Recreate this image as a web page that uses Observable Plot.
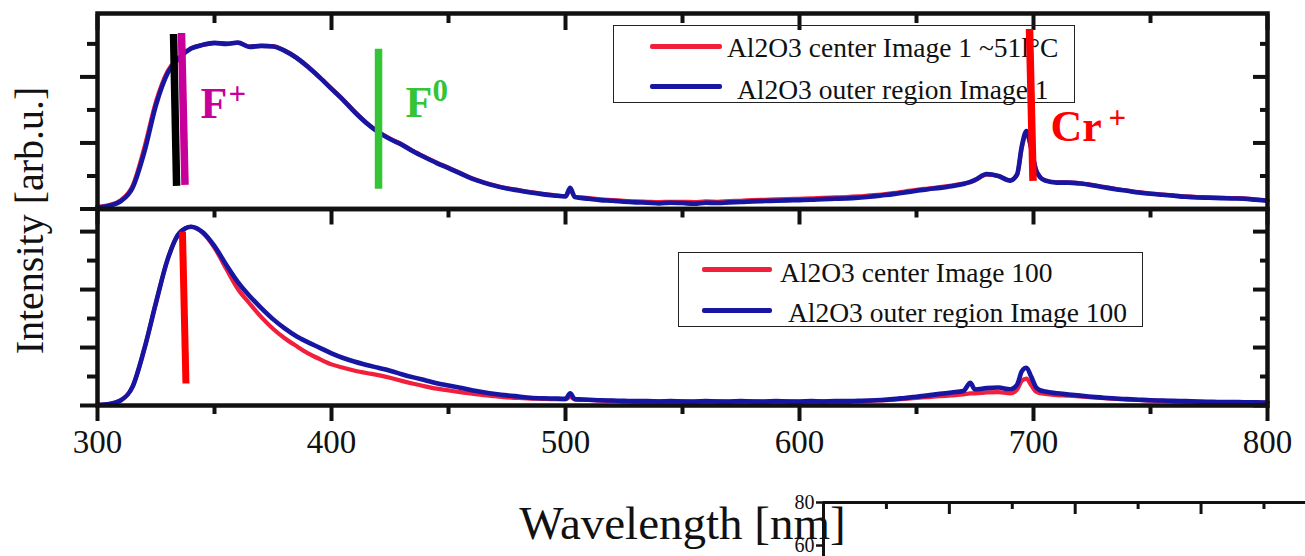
<!DOCTYPE html>
<html>
<head>
<meta charset="utf-8">
<script src="https://cdn.jsdelivr.net/npm/d3@7"></script>
<script src="https://cdn.jsdelivr.net/npm/@observablehq/plot@0.6"></script>
<style>
  html, body { margin: 0; padding: 0; background: #fff; overflow: hidden; }
  #fig { position: relative; width: 1305px; height: 556px; overflow: hidden;
         font-family: "Liberation Serif", "Times New Roman", serif; }
  #fig svg { position: absolute; left: 0; top: 0; }
  .box { position: absolute; border: 1.5px solid #222; box-sizing: border-box; }
  .sw { position: absolute; height: 4.5px; border-radius: 2px; }
  .tx { position: absolute; font-size: 27.5px; line-height: 1; white-space: nowrap; color: #111; }
</style>
</head>
<body>
<div id="fig"></div>
<script>
// Wavelength grid (nm) shared by all four spectra
const wavelength = [
  300, 305, 310, 315, 320, 325, 330, 335, 340, 345, 350, 355, 360, 365, 370, 375, 380, 385, 390, 395,
  400, 405, 410, 415, 420, 425, 430, 435, 440, 445, 450, 455, 460, 465, 470, 475, 480, 485, 490, 495,
  500, 502, 504, 510, 515, 520, 525, 530, 535, 540, 545, 550, 555, 560, 565, 570, 575, 580, 585, 590,
  595, 600, 605, 610, 615, 620, 625, 630, 635, 640, 645, 650, 655, 660, 665, 670, 673, 675, 680, 685,
  690, 693, 695, 697, 699, 701, 703, 705, 710, 715, 720, 725, 730, 735, 740, 745, 750, 755, 760, 765,
  770, 775, 780, 785, 790, 795, 800
];

// Upper panel: Image 1
const topCenter = [
  0.06, 0.12, 0.27, 0.70, 1.85, 3.25, 4.18, 4.60, 4.87, 4.97, 5.02, 5.01, 5.03, 4.92, 4.94, 4.93, 4.80, 4.59, 4.31, 3.99,
  3.65, 3.31, 2.94, 2.61, 2.34, 2.13, 1.96, 1.75, 1.57, 1.40, 1.25, 1.09, 0.93, 0.81, 0.71, 0.63, 0.57, 0.51, 0.46, 0.42,
  0.39, 0.58, 0.37, 0.33, 0.29, 0.27, 0.25, 0.23, 0.22, 0.21, 0.22, 0.22, 0.21, 0.23, 0.22, 0.24, 0.25, 0.27, 0.28, 0.29,
  0.30, 0.31, 0.32, 0.34, 0.35, 0.36, 0.38, 0.41, 0.44, 0.48, 0.53, 0.58, 0.62, 0.66, 0.71, 0.77, 0.81, 0.87, 1.04, 1.00,
  0.87, 1.04, 1.85, 2.30, 1.82, 1.19, 0.95, 0.87, 0.81, 0.80, 0.78, 0.73, 0.67, 0.61, 0.56, 0.51, 0.47, 0.44, 0.41, 0.38,
  0.36, 0.35, 0.34, 0.33, 0.32, 0.29, 0.26
];
const topOuter = [
  0.05, 0.10, 0.24, 0.64, 1.72, 3.15, 4.12, 4.58, 4.86, 4.97, 5.03, 5.00, 5.04, 4.91, 4.94, 4.92, 4.79, 4.58, 4.30, 3.98,
  3.64, 3.30, 2.93, 2.60, 2.33, 2.12, 1.95, 1.74, 1.56, 1.39, 1.24, 1.08, 0.92, 0.80, 0.70, 0.62, 0.56, 0.50, 0.45, 0.41,
  0.38, 0.64, 0.36, 0.31, 0.27, 0.25, 0.22, 0.20, 0.19, 0.17, 0.19, 0.18, 0.16, 0.19, 0.18, 0.20, 0.21, 0.23, 0.24, 0.25,
  0.26, 0.27, 0.28, 0.30, 0.31, 0.32, 0.34, 0.37, 0.41, 0.45, 0.50, 0.55, 0.60, 0.64, 0.69, 0.76, 0.82, 0.88, 1.06, 1.00,
  0.86, 1.05, 1.90, 2.36, 1.85, 1.20, 0.95, 0.86, 0.80, 0.80, 0.77, 0.72, 0.66, 0.60, 0.55, 0.50, 0.46, 0.43, 0.40, 0.37,
  0.35, 0.34, 0.33, 0.32, 0.31, 0.28, 0.25
];

// Lower panel: Image 100
const bottomCenter = [
  0.02, 0.05, 0.18, 0.65, 1.95, 3.55, 5.05, 5.95, 6.16, 5.95, 5.44, 4.72, 4.02, 3.52, 3.05, 2.65, 2.32, 2.05, 1.80, 1.60,
  1.42, 1.30, 1.20, 1.12, 1.05, 0.96, 0.85, 0.75, 0.66, 0.58, 0.52, 0.46, 0.41, 0.36, 0.32, 0.28, 0.26, 0.24, 0.23, 0.22,
  0.22, 0.30, 0.21, 0.19, 0.17, 0.16, 0.15, 0.15, 0.14, 0.14, 0.14, 0.14, 0.13, 0.14, 0.14, 0.13, 0.14, 0.14, 0.13, 0.14,
  0.14, 0.13, 0.14, 0.14, 0.14, 0.14, 0.15, 0.16, 0.18, 0.20, 0.23, 0.26, 0.29, 0.32, 0.35, 0.38, 0.42, 0.42, 0.45, 0.46,
  0.42, 0.55, 0.85, 0.93, 0.70, 0.48, 0.42, 0.40, 0.36, 0.34, 0.31, 0.28, 0.25, 0.23, 0.21, 0.19, 0.17, 0.16, 0.15, 0.14,
  0.13, 0.12, 0.12, 0.11, 0.11, 0.10, 0.10
];
const bottomOuter = [
  0.02, 0.05, 0.18, 0.65, 1.95, 3.55, 5.05, 5.95, 6.17, 5.98, 5.50, 4.86, 4.26, 3.78, 3.36, 2.98, 2.66, 2.39, 2.18, 1.99,
  1.80, 1.64, 1.51, 1.40, 1.30, 1.20, 1.08, 0.97, 0.87, 0.77, 0.69, 0.61, 0.53, 0.46, 0.40, 0.35, 0.31, 0.27, 0.25, 0.24,
  0.23, 0.42, 0.22, 0.20, 0.18, 0.17, 0.16, 0.15, 0.15, 0.14, 0.15, 0.14, 0.14, 0.15, 0.14, 0.14, 0.15, 0.14, 0.14, 0.15,
  0.14, 0.14, 0.15, 0.14, 0.15, 0.15, 0.16, 0.17, 0.19, 0.22, 0.26, 0.30, 0.35, 0.40, 0.45, 0.50, 0.78, 0.55, 0.60, 0.62,
  0.56, 0.72, 1.18, 1.30, 1.00, 0.64, 0.52, 0.48, 0.42, 0.38, 0.34, 0.30, 0.27, 0.24, 0.22, 0.20, 0.18, 0.17, 0.16, 0.15,
  0.14, 0.13, 0.12, 0.12, 0.11, 0.11, 0.10
];

// Axis ticks
const xTicks = [300, 400, 500, 600, 700, 800];
const xMinorTicks = [350, 450, 550, 650, 750];
const topMajor = [0, 2, 4], topMinor = [1, 3, 5];
const bottomMajor = [0, 2, 4, 6], bottomMinor = [1, 3, 5];

// Legend entries
const topLegend = ["Al2O3 center Image 1 ~51l°C", "Al2O3 outer region Image 1"];
const bottomLegend = ["Al2O3 center Image 100", "Al2O3 outer region Image 100"];

// Emission-band markers in the upper panel (nm at upper/lower end, intensity at upper/lower end)
const markerName = ["edge", "F+", "F0", "Cr+"];
const markerNmTop = [332.5, 335.9, 420.1, 698.3];
const markerNmBottom = [333.8, 337.4, 420.1, 699.8];
const markerHigh = [5.30, 5.33, 4.85, 5.45];
const markerLow = [0.70, 0.73, 0.61, 0.85];
// Marker in the lower panel
const lowerMarkerNm = [336.3, 337.8];
const lowerMarkerV = [6.0, 0.76];

// Band labels: main glyph and raised glyph
const labelMain = ["F", "F", "Cr"];
const labelMainNm = [344, 431.6, 707.3];
const labelMainV = [2.76, 2.79, 2.06];
const labelSup = ["+", "0", "+"];
const labelSupNm = [356, 443.2, 732];
const labelSupV = [3.47, 3.56, 2.76];

// Edge of a neighbouring panel along the bottom right
const insetYTicks = [60, 80];
const insetMajor = [2, 4, 6], insetMinor = [1, 3, 5, 7];

const RED = "#f21f3c", BLUE = "#1616a2";
const markerColor = {"edge": "#000", "F+": "#c8009b", "F0": "#35c435", "Cr+": "#ff0000"};
const labelColor = ["#c8009b", "#35c435", "#ff0000"];
const FONT = "Liberation Serif, Times New Roman, serif";
const blank = () => "";
const fig = document.getElementById("fig");

const rows = (vals) => wavelength.map((nm, i) => ({nm, v: vals[i]}));

const base = {
  width: 1305, height: 556, marginLeft: 97, marginRight: 38,
  x: {domain: [300, 800], axis: null},
  style: {background: "transparent", fontFamily: FONT, color: "#111", overflow: "visible"}
};

// Tick-only axis pieces (no tick text, no axis title)
const tickX = (o) => Plot.axisX({tickFormat: blank, label: null, strokeWidth: 4, stroke: "#111", ...o});
const tickY = (o) => Plot.axisY({tickFormat: blank, label: null, strokeWidth: 4, stroke: "#111", ...o});

function spectra(c, o) {
  return [
    Plot.line(rows(c), {x: "nm", y: "v", stroke: RED, strokeWidth: 4.2, curve: "monotone-x"}),
    Plot.line(rows(o), {x: "nm", y: "v", stroke: BLUE, strokeWidth: 4.6, curve: "monotone-x"})
  ];
}

function sideTicks(major, minor) {
  return [
    tickY({anchor: "left", ticks: major, tickSize: 17}),
    tickY({anchor: "left", ticks: minor, tickSize: 10}),
    tickY({anchor: "right", ticks: major, tickSize: 15, dx: -15}),
    tickY({anchor: "right", ticks: minor, tickSize: 8, dx: -8})
  ];
}

// Upper panel
const upper = Plot.plot({
  ...base, marginTop: 13, marginBottom: 347.5,
  y: {domain: [0, 5.92], axis: null},
  marks: [
    ...spectra(topCenter, topOuter),
    ...sideTicks(topMajor, topMinor),
    tickX({anchor: "top", ticks: xTicks, tickSize: 16, dy: 16}),
    tickX({anchor: "top", ticks: xMinorTicks, tickSize: 9, dy: 9}),
    tickX({anchor: "bottom", ticks: xTicks, tickSize: 16}),
    tickX({anchor: "bottom", ticks: xMinorTicks, tickSize: 9}),
    Plot.frame({stroke: "#111", strokeWidth: 4.5})
  ]
});

// Lower panel with the wavelength axis
const lower = Plot.plot({
  ...base, marginTop: 208.5, marginBottom: 151,
  y: {domain: [0, 6.78], axis: null},
  marks: [
    ...spectra(bottomCenter, bottomOuter),
    Plot.link([0], {x1: () => lowerMarkerNm[0], x2: () => lowerMarkerNm[1],
      y1: () => lowerMarkerV[0], y2: () => lowerMarkerV[1], stroke: "#ff0000", strokeWidth: 7}),
    ...sideTicks(bottomMajor, bottomMinor),
    Plot.axisX({anchor: "bottom", ticks: xTicks, tickSize: 16, tickPadding: 8, fontSize: 33,
      strokeWidth: 4, stroke: "#111", fill: "#111", label: null}),
    tickX({anchor: "bottom", ticks: xMinorTicks, tickSize: 9}),
    Plot.frame({stroke: "#111", strokeWidth: 4.5}),
    Plot.text(["Wavelength [nm]"], {frameAnchor: "bottom", text: d => d, dy: 133, lineAnchor: "bottom",
      fontSize: 47, fill: "#111"}),
    Plot.text(["Intensity [arb.u.]"], {frameAnchor: "top-left", text: d => d, dx: -67, dy: 11.5, rotate: -90,
      textAnchor: "middle", lineAnchor: "middle", fontSize: 40, fill: "#111"})
  ]
});

fig.append(upper, lower);

// Legends
function legend(left, top, width, height, swLeft, swWidth, swTops, texts, textLefts, baselines) {
  const box = document.createElement("div");
  box.className = "box";
  Object.assign(box.style, {left: left + "px", top: top + "px", width: width + "px", height: height + "px"});
  fig.append(box);
  [RED, BLUE].forEach((c, i) => {
    const sw = document.createElement("div");
    sw.className = "sw";
    Object.assign(sw.style, {left: swLeft + "px", top: swTops[i] + "px", width: swWidth + "px", background: c});
    fig.append(sw);
    const tx = document.createElement("div");
    tx.className = "tx";
    tx.textContent = texts[i];
    Object.assign(tx.style, {left: textLefts[i] + "px", top: (baselines[i] - 23) + "px"});
    fig.append(tx);
  });
}
legend(613, 25, 462, 78, 650, 72, [44, 84], topLegend, [727, 737], [57, 99]);
legend(678, 252, 465, 75, 702, 70, [267, 308], bottomLegend, [780, 788], [282, 322]);

// Band markers and labels drawn above the legend
const markers = markerName.map((name, i) => ({
  name, x1: markerNmTop[i], x2: markerNmBottom[i], y1: markerHigh[i], y2: markerLow[i]
}));
const labels = labelMain.map((t, i) => ({
  main: t, sup: labelSup[i], color: labelColor[i],
  mx: labelMainNm[i], my: labelMainV[i], sx: labelSupNm[i], sy: labelSupV[i]
}));
const notes = Plot.plot({
  ...base, marginTop: 13, marginBottom: 347.5,
  y: {domain: [0, 5.92], axis: null},
  marks: [
    Plot.link(markers, {x1: "x1", x2: "x2", y1: "y1", y2: "y2", stroke: d => markerColor[d.name], strokeWidth: 7.5}),
    Plot.text(labels, {x: "mx", y: "my", text: "main", fill: "color", fontSize: 44, fontWeight: "bold",
      textAnchor: "start", lineAnchor: "bottom"}),
    Plot.text(labels, {x: "sx", y: "sy", text: "sup", fill: "color", fontSize: 31, fontWeight: "bold",
      textAnchor: "start", lineAnchor: "middle"})
  ]
});
fig.append(notes);

// Corner of the neighbouring panel
const inset = Plot.plot({
  width: 1305, height: 556, marginLeft: 823, marginRight: 0, marginTop: 502, marginBottom: 0,
  x: {domain: [0, 7.66], axis: null},
  y: {domain: [54.9, 80], axis: null},
  style: {background: "transparent", fontFamily: FONT, color: "#111"},
  marks: [
    Plot.ruleY([80], {stroke: "#111", strokeWidth: 3}),
    Plot.ruleX([0], {stroke: "#111", strokeWidth: 3}),
    Plot.axisX({anchor: "top", ticks: insetMajor, tickSize: 11, dy: 11, tickFormat: blank, label: null, strokeWidth: 3, stroke: "#111"}),
    Plot.axisX({anchor: "top", ticks: insetMinor, tickSize: 6, dy: 6, tickFormat: blank, label: null, strokeWidth: 3, stroke: "#111"}),
    Plot.axisY({anchor: "left", ticks: insetYTicks, tickSize: 7, tickPadding: 2, fontSize: 20, strokeWidth: 2.5,
      stroke: "#111", fill: "#111", label: null})
  ]
});
fig.append(inset);
</script>
</body>
</html>
